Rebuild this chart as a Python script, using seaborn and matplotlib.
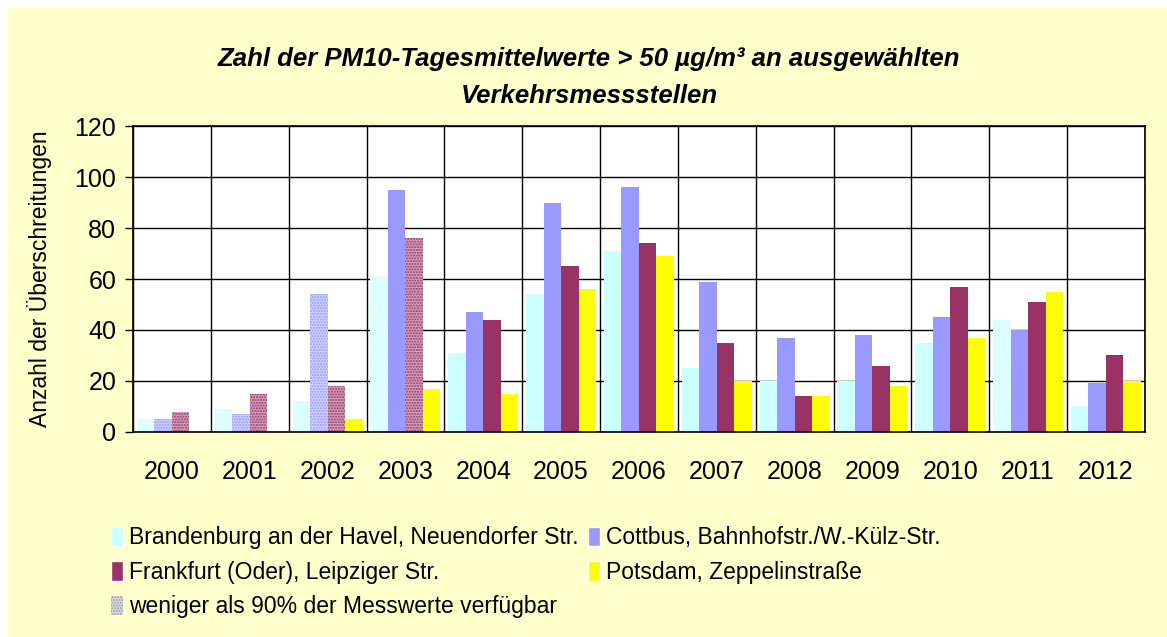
import matplotlib
matplotlib.use('Agg')
import matplotlib.pyplot as plt
import matplotlib.patches as mpatches
import matplotlib.colors as mcolors
import numpy as np
import pandas as pd
import seaborn as sns

jahre = [str(j) for j in range(2000, 2013)]
stationen = ['Brandenburg an der Havel, Neuendorfer Str.',
             'Cottbus, Bahnhofstr./W.-Külz-Str.',
             'Frankfurt (Oder), Leipziger Str.',
             'Potsdam, Zeppelinstraße']
brandenburg = [5, 9, 12, 61, 31, 54, 71, 25, 20, 20, 35, 44, 10]
cottbus = [5, 7, 54, 95, 47, 90, 96, 59, 37, 38, 45, 40, 19]
frankfurt = [8, 15, 18, 76, 44, 65, 74, 35, 14, 26, 57, 51, 30]
potsdam = [0, 0, 5, 17, 15, 56, 69, 20, 14, 18, 37, 55, 20]
farben = ['#CCFFFF', '#9999FF', '#993366', '#FFFF00']
# Jahre mit weniger als 90% der Messwerte
unvollstaendig = [['2000', '2001', '2002', '2003', '2011'],
                  ['2000', '2001', '2002'],
                  ['2000', '2001', '2002', '2003'],
                  []]

df = pd.DataFrame({
    'Jahr': jahre * 4,
    'Messstelle': [s for s in stationen for _ in jahre],
    'Wert': brandenburg + cottbus + frankfurt + potsdam,
})

sns.set_theme(style='white')
plt.rcParams['font.family'] = ['Liberation Sans', 'DejaVu Sans']
plt.rcParams['hatch.linewidth'] = 1.0
plt.rcParams['text.color'] = 'black'
plt.rcParams['axes.labelcolor'] = 'black'
plt.rcParams['xtick.color'] = 'black'
plt.rcParams['ytick.color'] = 'black'

fig = plt.figure(figsize=(11.67, 6.37), dpi=100)
fig.patch.set_facecolor('white')
fig.add_artist(mpatches.Rectangle((8 / 1167, 0), 1, 1 - 8 / 637, transform=fig.transFigure,
                                  facecolor='#FFFFCC', edgecolor='none', zorder=-1))
ax = fig.add_axes([0.114, 0.322, 0.867, 0.480])
ax.set_facecolor('white')

sns.barplot(data=df, x='Jahr', y='Wert', hue='Messstelle', hue_order=stationen,
            palette=farben, saturation=1, width=0.9, ax=ax, legend=False)

for cont, farbe, luecken in zip(ax.containers, farben, unvollstaendig):
    hell = mcolors.to_hex(0.45 * np.array(mcolors.to_rgb(farbe)) + 0.55)
    for bar, jahr in zip(cont, jahre):
        bar.set_linewidth(0)
        if jahr in luecken:
            bar.set_facecolor(hell)
            bar.set_edgecolor(farbe)
            bar.set_hatch('......')

ax.set_xlim(-0.5, 12.5)
ax.set_ylim(0, 120)
ax.set_yticks(range(0, 121, 20))
ax.set_xticks(np.arange(-0.5, 13, 1), minor=True)
ax.xaxis.grid(True, which='minor', color='black', lw=1)
ax.yaxis.grid(True, color='black', lw=1)
ax.set_axisbelow(True)
ax.tick_params(axis='x', which='both', length=0, pad=20, labelsize=18)
ax.tick_params(axis='y', length=6, width=1, color='black', pad=6, labelsize=18, left=True)
for sp in ax.spines.values():
    sp.set_color('black')
    sp.set_linewidth(1.2)
ax.set_xlabel('')
ax.set_ylabel('Anzahl der Überschreitungen', fontsize=16.5, labelpad=16)

fig.text(0.505, 0.908, 'Zahl der PM10-Tagesmittelwerte > 50 µg/m³ an ausgewählten',
         ha='center', va='center', fontsize=18.5, fontweight='bold', fontstyle='italic')
fig.text(0.505, 0.850, 'Verkehrsmessstellen',
         ha='center', va='center', fontsize=18.5, fontweight='bold', fontstyle='italic')

griffe = [mpatches.Patch(facecolor=farben[0], label=stationen[0]),
          mpatches.Patch(facecolor=farben[2], label=stationen[2]),
          mpatches.Patch(facecolor='#DDDDDD', edgecolor='#999999', hatch='......', lw=0,
                         label='weniger als 90% der Messwerte verfügbar'),
          mpatches.Patch(facecolor=farben[1], label=stationen[1]),
          mpatches.Patch(facecolor=farben[3], label=stationen[3])]
fig.legend(handles=griffe, loc='upper left', bbox_to_anchor=(0.087, 0.188), ncol=2,
           frameon=False, fontsize=16.5, handlelength=0.55, handleheight=0.95,
           handletextpad=0.25, columnspacing=0.4, labelspacing=0.5, borderaxespad=0)

fig.savefig('out.png', dpi=100, facecolor=fig.get_facecolor())
